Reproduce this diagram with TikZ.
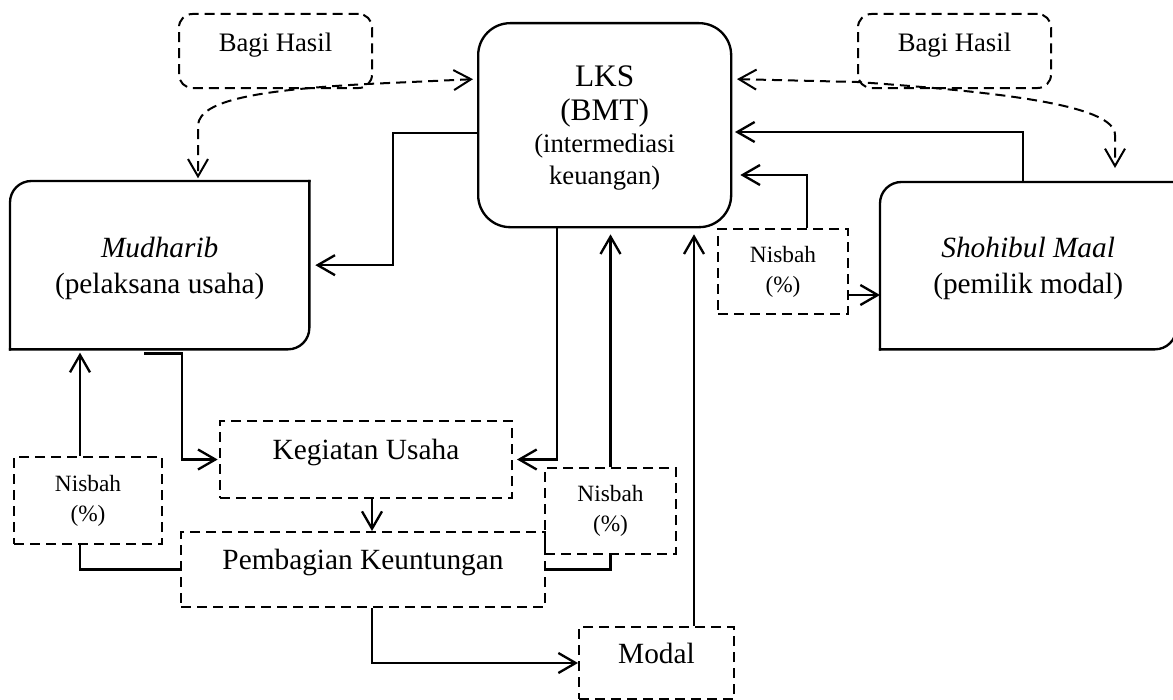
\documentclass[tikz,border=0pt]{standalone}
\usepackage{fontspec}
\setmainfont{Liberation Serif}
\usetikzlibrary{arrows.meta}

\begin{document}
\begin{tikzpicture}[x=0.75pt,y=-0.75pt,line width=1.75pt,
  >={Straight Barb[length=13pt,width=15pt]},
  box/.style={anchor=north west,inner sep=0pt,align=center,font=\fontsize{22}{27}\selectfont},
  dbox/.style={box,draw,line width=1.5pt,dash pattern=on 7.5pt off 4.5pt},
  nisbah/.style={dbox,font=\fontsize{17.5}{22.5}\selectfont},
  midtext/.style={text height=12pt,text depth=12pt},
  dline/.style={line width=1.5pt,dash pattern=on 7.5pt off 4.5pt}]
\useasboundingbox (0,0) rectangle (1173,699);

% pihak
\node[box,draw,rounded corners=24pt,minimum width=189.75pt,minimum height=153pt,text depth=-3pt,font=\fontsize{20}{24}\selectfont] (lks) at (477,22)
  {{\fontsize{23.5}{26}\selectfont LKS}\\[2pt]{\fontsize{23.5}{26}\selectfont (BMT)}\\(intermediasi\\keuangan)};
\node[box,minimum width=222.75pt,minimum height=124.5pt,text depth=-1pt] (mud) at (10,181) {\textit{Mudharib}\\(pelaksana usaha)};
\node[box,minimum width=220.5pt,minimum height=123.75pt,text depth=-1pt] (sho) at (880,182) {\textit{Shohibul Maal}\\(pemilik modal)};
\draw[line cap=rect,rounded corners=16pt] (mud.south west) -- (mud.north west) -- (mud.north east);
\draw[line cap=rect,rounded corners=16pt] (mud.north east) -- (mud.south east) -- (mud.south west);
\draw[line cap=rect,rounded corners=16pt] (sho.south west) -- (sho.north west) -- (sho.north east);
\draw[line cap=rect,rounded corners=16pt] (sho.north east) -- (sho.south east) -- (sho.south west);

% bagi hasil
\node[dbox,midtext,rounded corners=10pt,minimum width=144.75pt,minimum height=55.5pt,font=\fontsize{20}{24}\selectfont] (bagiL) at (178,13) {Bagi Hasil};
\node[dbox,midtext,rounded corners=10pt,minimum width=144.75pt,minimum height=55.5pt,font=\fontsize{20}{24}\selectfont] (bagiR) at (857,13) {Bagi Hasil};

% nisbah
\node[nisbah,minimum width=97.5pt,minimum height=63.75pt] (nisR) at (717,228) {Nisbah\\(\%)};
\node[nisbah,minimum width=111pt,minimum height=65.25pt] (nisL) at (13,456) {Nisbah\\(\%)};
\node[nisbah,minimum width=98.25pt,minimum height=64.5pt] (nisM) at (544,467) {Nisbah\\(\%)};

% usaha
\node[dbox,midtext,minimum width=219pt,minimum height=57.75pt] (keg) at (219,420) {Kegiatan Usaha};
\node[dbox,midtext,minimum width=273pt,minimum height=56.25pt] (pem) at (180,531) {Pembagian Keuntungan};
\node[dbox,midtext,minimum width=116.25pt,minimum height=54pt] (mod) at (578,626) {Modal};

% alur
\draw[->,shorten >=4.5pt] (lks.west |- 0,133) -- (393,133) |- (mud.east);
\draw[->,shorten >=2pt] (1023,0 |- sho.north) |- (lks.east |- 0,132);
\draw[->,shorten >=6pt] (807,0 |- nisR.north) |- (lks.east |- 0,175);
\draw[->] (nisR.east |- 0,295) -- (sho.west |- 0,295);
\draw[->,shorten >=3pt] (557,0 |- lks.south) |- (keg.east);
\draw[->,shorten >=4.5pt] (nisM.north) -- (nisM.north |- lks.south);
\draw[->,shorten >=4.5pt] (694,0 |- mod.north) -- (694,0 |- lks.south);
\draw (pem.east) -| (nisM.south);
\draw (pem.west) -| (80,0 |- nisL.south);
\draw[->,shorten >=2.5pt] (80,0 |- nisL.north) -- (80,0 |- mud.south);
\draw[->,shorten >=1pt] ([yshift=-3pt]144,0 |- mud.south) -| (182,400) |- (keg.west);
\draw[->] (372,0 |- keg.south) -- (372,0 |- pem.north);
\draw[->] (372,0 |- pem.south) |- (mod.west);

% bagi hasil
\draw[dline,<->,shorten <=3pt,shorten >=2pt] (lks.west |- 0,79) -- (367,84) .. controls (260,90) and (200,100) .. (198,125) -- (198,0 |- mud.north);
\draw[dline,<->,shorten <=3.5pt,shorten >=10.5pt] (lks.east |- 0,79) -- (857,82) .. controls (1000,92) and (1115,105) .. (1115,135) -- (1115,0 |- sho.north);
\end{tikzpicture}
\end{document}
